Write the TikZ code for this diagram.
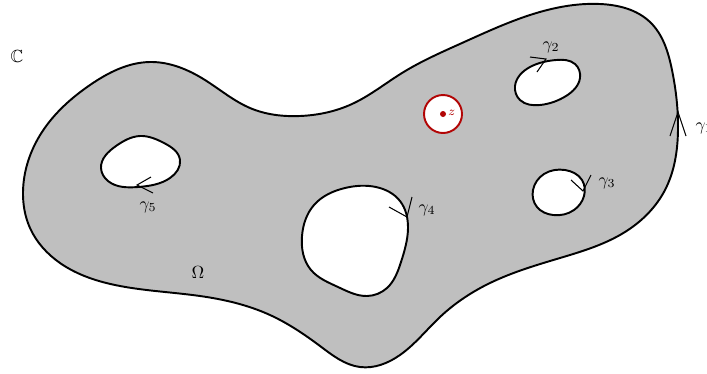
\documentclass[tikz,border=0pt]{standalone}
\usepackage{amssymb}
\usetikzlibrary{arrows.meta,hobby}
\definecolor{domFill}{gray}{0.75}
\definecolor{ptRed}{rgb}{0.70,0.02,0.02}

\begin{document}
\begin{tikzpicture}[
    x=0.02cm, y=-0.02cm,
    boundary/.style={draw=black, line width=1.1pt},
    hole/.style={draw=black, line width=1.1pt, fill=white},
    barb/.style={draw=black, line width=0.6pt},
    lbl/.style={inner sep=1pt}
]
\useasboundingbox (0,0) rectangle (707,373);

% outer boundary gamma_1
\path[boundary, fill=domFill] plot[closed hobby] coordinates {
  (23,192) (42,132) (90,85) (150,62) (205,80) (250,108) (300,116)
  (352,104) (402,73) (462,43) (530,15) (600,4) (650,22) (672,70)
  (678,130) (665,190) (625,232) (560,258) (490,283) (440,317)
  (400,355) (360,367) (320,346) (270,315) (200,296) (120,286)
  (60,263) (30,228)};

% holes
\path[hole] plot[closed hobby] coordinates {
  (101,168) (116,146) (140,136) (164,143) (180,160) (170,178) (138,187) (108,181)};
\path[hole] plot[closed hobby] coordinates {
  (515,86) (530,67) (556,60) (575,64) (580,78) (566,96) (540,105) (520,100)};
\path[hole] plot[closed hobby] coordinates {
  (533,190) (544,174) (565,170) (582,180) (584,196) (574,210) (553,215) (537,207)};
\path[hole] plot[closed hobby] coordinates {
  (302,236) (314,205) (345,188) (376,187) (400,201) (408,228) (401,262)
  (387,288) (367,296) (338,287) (311,270)};

% orientation marks
\draw[barb] (670,136) -- (678,112) -- (686,136);
\draw[barb] (530,57) -- (546,59) -- (537,72);
\draw[barb] (571,180) -- (583,191) -- (591,175);
\draw[barb] (389,207) -- (407,217) -- (412,197);
\draw[barb] (151,177) -- (137,185) -- (153,193);

% the point z
\draw[draw=ptRed, line width=1.1pt, fill=white] (443,114) circle (19);
\fill[ptRed] (443,114) circle (3);
\node[lbl, text=ptRed, anchor=west] (zLbl) at (446,113) {$\scriptstyle z$};

% labels
\node[lbl] (gOne) at (704,128) {$\gamma_1$};
\node[lbl] (gTwo) at (551,47) {$\gamma_2$};
\node[lbl] (gThree) at (607,183) {$\gamma_3$};
\node[lbl] (gFour) at (427,210) {$\gamma_4$};
\node[lbl] (gFive) at (148,207) {$\gamma_5$};
\node[lbl] (Omega) at (198,272) {$\Omega$};
\node[lbl] (Cplx) at (17,56) {$\mathbb{C}$};

\end{tikzpicture}
\end{document}
